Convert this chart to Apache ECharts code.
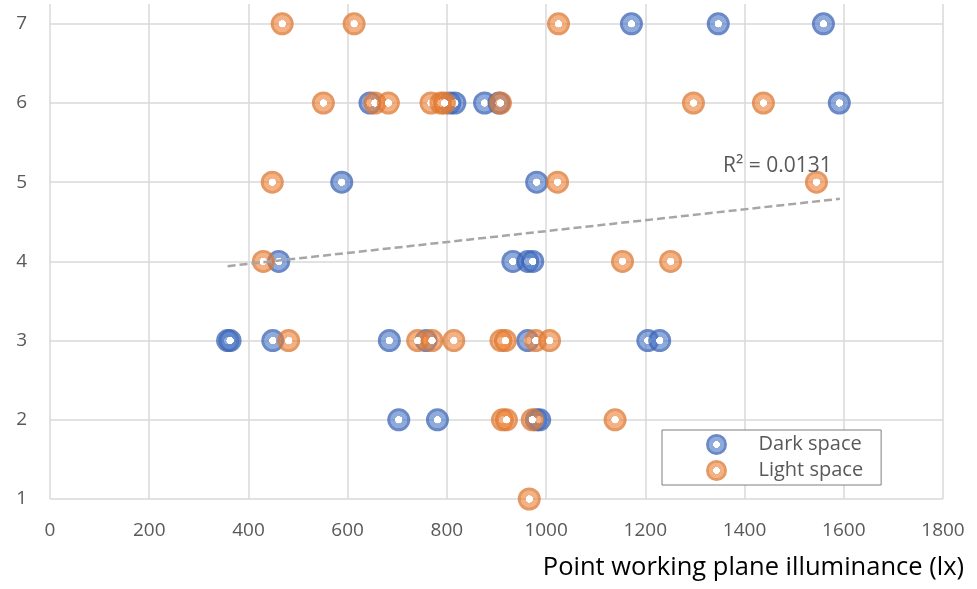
<!DOCTYPE html>
<html>
<head>
<meta charset="utf-8">
<script src="https://cdn.jsdelivr.net/npm/echarts@6/dist/echarts.min.js"></script>
<style>
  html, body { margin: 0; padding: 0; background: #fff; }
  #chart { width: 977px; height: 589px; }
</style>
</head>
<body>
<div id="chart"></div>
<script>
// Point working plane illuminance (lx) against rating level, per space type
const darkIlluminance = [1172, 1347, 1559,
                         645, 806, 816, 876, 905, 1591,
                         588, 981,
                         461, 933, 963, 973,
                         358, 363, 449, 684, 758, 963, 1205, 1229,
                         703, 781, 980, 987];
const darkLevel =       [7, 7, 7,
                         6, 6, 6, 6, 6, 6,
                         5, 5,
                         4, 4, 4, 4,
                         3, 3, 3, 3, 3, 3, 3, 3,
                         2, 2, 2, 2];

const lightIlluminance = [468, 613, 1025,
                          551, 655, 682, 768, 788, 795, 908, 1297, 1438,
                          448, 1023, 1545,
                          430, 1154, 1251,
                          481, 741, 770, 814, 909, 918, 979, 1007,
                          912, 920, 972, 1139,
                          966];
const lightLevel =       [7, 7, 7,
                          6, 6, 6, 6, 6, 6, 6, 6, 6,
                          5, 5, 5,
                          4, 4, 4,
                          3, 3, 3, 3, 3, 3, 3, 3,
                          2, 2, 2, 2,
                          1];

// Linear trend of the dark-space series (end points) and its fit statistic
const trendX = [358, 1592];
const trendY = [3.94, 4.79];
const trendLabel = 'R\u00b2 = 0.0131';

const seriesNames = ['Dark space', 'Light space'];
const xTicks = { min: 0, max: 1800, step: 200 };
const yLevels = [1, 2, 3, 4, 5, 6, 7];
const xTitle = 'Point working plane illuminance (lx)';

const FONT = '"Open Sans", "Noto Sans", "Liberation Sans", sans-serif';

function zip(xs, ys) { return xs.map((x, i) => [x, ys[i]]); }

// Ring-shaped marker: white hole, light band, darker rim
function ring(light, dark) {
  return {
    type: 'radial', x: 0.5, y: 0.5, r: 0.5,
    colorStops: [
      { offset: 0, color: '#ffffff' },
      { offset: 0.31, color: '#ffffff' },
      { offset: 0.33, color: light },
      { offset: 0.72, color: light },
      { offset: 0.76, color: dark },
      { offset: 1, color: dark }
    ]
  };
}

const blueRing = ring('rgba(68,114,196,0.6)', 'rgba(60,100,180,0.76)');
const orangeRing = ring('rgba(237,125,49,0.6)', 'rgba(220,120,50,0.76)');

const chart = echarts.init(document.getElementById('chart'), null, { renderer: 'canvas' });

chart.setOption({
  animation: false,
  backgroundColor: '#ffffff',
  textStyle: { fontFamily: FONT },
  grid: { left: 50, right: 34, top: 4, bottom: 90, containLabel: false },
  xAxis: {
    type: 'value',
    min: xTicks.min, max: xTicks.max, interval: xTicks.step,
    axisLine: { show: false },
    axisTick: { show: false },
    axisLabel: { color: '#595959', fontSize: 19, fontFamily: FONT, margin: 22, formatter: v => String(v) },
    splitLine: { show: true, lineStyle: { color: '#d9d9d9', width: 1.5 } }
  },
  yAxis: {
    type: 'value',
    min: 1, max: 7.25, interval: 1,
    axisLine: { show: false },
    axisTick: { show: false },
    axisLabel: { color: '#595959', fontSize: 19, fontFamily: FONT, margin: 23, showMaxLabel: false },
    splitLine: { show: false }
  },
  legend: {
    orient: 'vertical',
    left: 662, top: 430,
    padding: [4, 18, 4, 44],
    itemWidth: 74, itemHeight: 21, itemGap: 5,
    borderColor: '#7f7f7f', borderWidth: 1,
    backgroundColor: '#ffffff',
    icon: 'circle',
    data: seriesNames,
    textStyle: { color: '#595959', fontSize: 20, fontFamily: FONT }
  },
  graphic: [
    {
      type: 'text', x: 723, y: 166, z: 10,
      style: { text: trendLabel, font: '21px ' + FONT, fill: '#595959', verticalAlign: 'middle', align: 'left' }
    },
    {
      type: 'text', x: 964, y: 568, z: 10,
      style: { text: xTitle, font: '25.5px ' + FONT, fill: '#000000', verticalAlign: 'middle', align: 'right' }
    }
  ],
  series: [
    {
      // horizontal gridlines at each rating level
      name: 'levels', type: 'scatter', data: [], z: 1, silent: true,
      markLine: {
        z: 1, silent: true, symbol: ['none', 'none'], label: { show: false },
        lineStyle: { color: '#d9d9d9', width: 1.5, type: 'solid' },
        emphasis: { disabled: true },
        data: yLevels.map(v => ({ yAxis: v }))
      }
    },
    {
      name: seriesNames[0], type: 'scatter', z: 6,
      symbol: 'circle', symbolSize: 23,
      itemStyle: { color: blueRing, opacity: 1 },
      emphasis: { disabled: true },
      data: zip(darkIlluminance, darkLevel)
    },
    {
      name: seriesNames[1], type: 'scatter', z: 7,
      symbol: 'circle', symbolSize: 23,
      itemStyle: { color: orangeRing, opacity: 1 },
      emphasis: { disabled: true },
      data: zip(lightIlluminance, lightLevel)
    },
    {
      name: 'trend', type: 'line', z: 8, silent: true,
      showSymbol: false, symbol: 'none',
      lineStyle: { color: '#a6a6a6', width: 2.5, type: [8, 4] },
      data: zip(trendX, trendY)
    }
  ]
});
</script>
</body>
</html>
